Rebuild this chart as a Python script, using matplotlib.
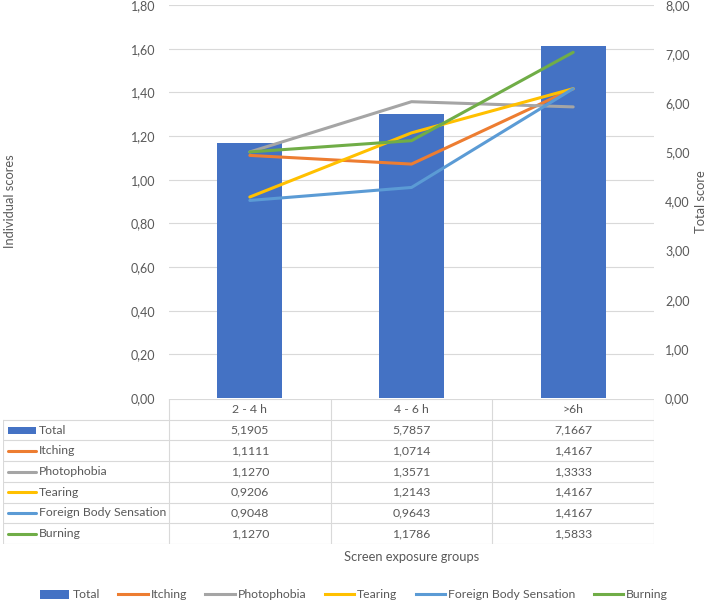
import matplotlib
matplotlib.use("Agg")
import matplotlib.pyplot as plt
from matplotlib.patches import Rectangle
from matplotlib.lines import Line2D
import numpy as np

groups = ["2 - 4 h", "4 - 6 h", ">6h"]
total = [5.1905, 5.7857, 7.1667]
itching = [1.1111, 1.0714, 1.4167]
photophobia = [1.1270, 1.3571, 1.3333]
tearing = [0.9206, 1.2143, 1.4167]
foreign_body = [0.9048, 0.9643, 1.4167]
burning = [1.1270, 1.1786, 1.5833]

line_series = [
    ("Itching", itching, "#ED7D31"),
    ("Photophobia", photophobia, "#A5A5A5"),
    ("Tearing", tearing, "#FFC000"),
    ("Foreign Body Sensation", foreign_body, "#5B9BD5"),
    ("Burning", burning, "#70AD47"),
]
bar_color = "#4472C4"
text_color = "#595959"
grid_color = "#D9D9D9"

plt.rcParams["font.family"] = ["Lato", "DejaVu Sans"]
fs = 8.8
fs_title = 9.3

W, H = 708, 603
fig = plt.figure(figsize=(W / 100, H / 100), dpi=100)

# plot area in pixels
px_left, px_right, px_top, px_bottom = 169, 654, 5, 398


def fx(x):
    return x / W


def fy(y):
    return 1 - y / H


ax2 = fig.add_axes([fx(px_left), fy(px_bottom), fx(px_right - px_left), (px_bottom - px_top) / H])
ax = ax2.twinx()
ax2.yaxis.tick_right()
ax2.yaxis.set_label_position("right")
ax.yaxis.tick_left()
ax.yaxis.set_label_position("left")
ax.set_zorder(ax2.get_zorder() + 1)
ax.patch.set_visible(False)

x = np.arange(len(groups))

# bars (right axis)
ax2.bar(x, total, width=0.4, color=bar_color, zorder=2)
ax2.set_ylim(0, 8)
ax2.set_yticks(np.arange(0, 9, 1))
ax2.set_yticklabels([f"{v:.2f}".replace(".", ",") for v in np.arange(0, 9, 1)])
ax2.set_ylabel("Total score", fontsize=fs_title, color=text_color)

# gridlines follow the left axis ticks, drawn behind the bars
left_ticks = np.arange(0, 1.81, 0.2)
for t in left_ticks[1:]:
    ax2.axhline(t * 8 / 1.8, color=grid_color, lw=0.8, zorder=0)

# lines (left axis)
for name, vals, col in line_series:
    ax.plot(x, vals, color=col, lw=2.2, solid_capstyle="round")
ax.set_ylim(0, 1.8)
ax.set_yticks(left_ticks)
ax.set_yticklabels([f"{v:.2f}".replace(".", ",") for v in left_ticks])
ax.set_ylabel("Individual scores", fontsize=fs_title, color=text_color)
ax.yaxis.set_label_coords(-(px_left - 16) / (px_right - px_left), 0.5)
ax2.yaxis.set_label_coords(1 + (695 - px_right) / (px_right - px_left), 0.5)

for a in (ax, ax2):
    a.set_xlim(-0.5, len(groups) - 0.5)
    a.set_xticks([])
    for s in a.spines.values():
        s.set_visible(False)
    a.tick_params(axis="y", length=0, colors=text_color, labelsize=9)
ax.tick_params(axis="y", pad=10)
ax2.tick_params(axis="y", pad=8)

# data table
t_left, t_top, t_bottom = 3, 399, 544
tax = fig.add_axes([fx(t_left), fy(t_bottom), fx(px_right - t_left), (t_bottom - t_top) / H])
tax.set_xlim(t_left, px_right)
tax.set_ylim(t_bottom, t_top)
tax.axis("off")

n_rows = 1 + 1 + len(line_series)
row_h = (t_bottom - t_top) / n_rows
col_w = (px_right - px_left) / len(groups)
col_edges = [px_left + i * col_w for i in range(len(groups) + 1)]

lw_tab = 0.8
# horizontal lines
tax.plot([px_left, px_right], [t_top, t_top], color=grid_color, lw=lw_tab)
for r in range(1, n_rows + 1):
    yy = t_top + r * row_h
    tax.plot([t_left, px_right], [yy, yy], color=grid_color, lw=lw_tab)
# vertical lines
tax.plot([t_left, t_left], [t_top + row_h, t_bottom], color=grid_color, lw=lw_tab)
for xe in col_edges:
    tax.plot([xe, xe], [t_top, t_bottom], color=grid_color, lw=lw_tab)

# header
for i, g in enumerate(groups):
    tax.text(px_left + (i + 0.5) * col_w, t_top + 0.5 * row_h, g, ha="center", va="center",
             color=text_color, fontsize=fs)

rows = [("Total", total, bar_color, "bar")] + [(n, v, c, "line") for n, v, c in line_series]
for r, (name, vals, col, kind) in enumerate(rows):
    yc = t_top + (r + 1.5) * row_h
    if kind == "bar":
        tax.add_patch(Rectangle((8, yc - 3.5), 28, 7, color=col, lw=0))
    else:
        tax.plot([8, 36], [yc, yc], color=col, lw=2.2, solid_capstyle="round")
    tax.text(39, yc, name, ha="left", va="center", color=text_color, fontsize=fs)
    for i, v in enumerate(vals):
        tax.text(px_left + (i + 0.5) * col_w, yc, f"{v:.4f}".replace(".", ","),
                 ha="center", va="center", color=text_color, fontsize=fs)

fig.text(fx((px_left + px_right) / 2), fy(557), "Screen exposure groups", ha="center", va="center",
         color=text_color, fontsize=fs_title)

handles = [Rectangle((0, 0), 1, 1, color=bar_color, lw=0)]
handles += [Line2D([], [], color=c, lw=2.2) for _, _, c in line_series]
labels = ["Total"] + [n for n, _, _ in line_series]
fig.legend(handles, labels, loc="center", bbox_to_anchor=(0.5, fy(595)), ncol=6, frameon=False,
           handlelength=2.4, handletextpad=0.25, columnspacing=1.5, labelcolor=text_color,
           fontsize=fs)

fig.savefig("out.png", dpi=100)
